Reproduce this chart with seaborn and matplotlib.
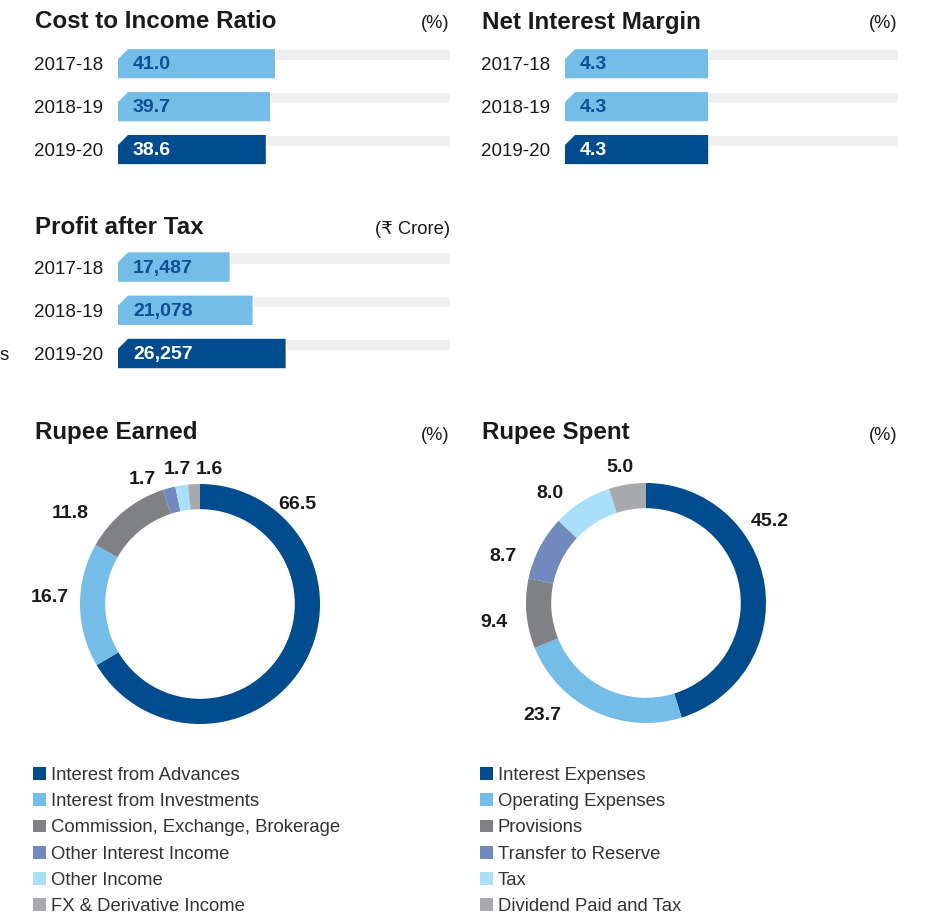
import matplotlib
matplotlib.use('Agg')
import matplotlib.pyplot as plt
from matplotlib.patches import Polygon, Patch
import seaborn as sns

# data
years = ['2017-18', '2018-19', '2019-20']
cost_income = [41.0, 39.7, 38.6]
cost_text = ['41.0', '39.7', '38.6']
nim = [4.3, 4.3, 4.3]
nim_text = ['4.3', '4.3', '4.3']
pat = [17487, 21078, 26257]
pat_text = ['17,487', '21,078', '26,257']

earned_names = ['Interest from Advances', 'Interest from Investments',
                'Commission, Exchange, Brokerage', 'Other Interest Income',
                'Other Income', 'FX & Derivative Income']
earned_values = [66.5, 16.7, 11.8, 1.7, 1.7, 1.6]
earned_text = ['66.5', '16.7', '11.8', '1.7', '1.7', '1.6']

spent_names = ['Interest Expenses', 'Operating Expenses', 'Provisions',
               'Transfer to Reserve', 'Tax', 'Dividend Paid and Tax']
spent_values = [45.2, 23.7, 9.4, 8.7, 8.0, 5.0]
spent_text = ['45.2', '23.7', '9.4', '8.7', '8.0', '5.0']

# colours
DARK = '#004c8f'
LIGHT = '#74bde8'
GRAY = '#808185'
SLATE = '#7189bd'
CYAN = '#aadff9'
LGRAY = '#a8a9ad'
TRACK = '#efefef'
INK = '#1a1a1a'
slice_colors = [DARK, LIGHT, GRAY, SLATE, CYAN, LGRAY]
bar_colors = [LIGHT, LIGHT, DARK]

sns.set_theme(style='white')
plt.rcParams['font.family'] = ['Liberation Sans', 'DejaVu Sans']
plt.rcParams['text.color'] = INK

W, H = 929, 916
fig = plt.figure(figsize=(W / 100, H / 100), dpi=100)


def px_axes(left, top, width, height):
    return fig.add_axes([left / W, 1 - (top + height) / H, width / W, height / H])


def bar_panel(left, top, width, row_h, values, texts, xmax):
    ax = px_axes(left, top, width, row_h * 3)
    sns.barplot(x=values, y=years, hue=years, palette=bar_colors, legend=False,
                width=0.68, saturation=1, ax=ax, zorder=2)
    ax.set_xlim(0, xmax)
    ax.set_ylim(2.5, -0.5)
    # thin grey track to the right of each bar, aligned to its top
    for i, v in enumerate(values):
        ax.barh(i - 0.34 + 0.13, xmax - v, left=v, height=0.26, color=TRACK, zorder=1)
    # chamfer the top-left corner of each bar
    cx = 10 * xmax / width
    cy = 10 / row_h
    for p in list(ax.patches):
        if p.get_zorder() != 2:
            continue
        x0, y0, w, h = p.get_x(), p.get_y(), p.get_width(), p.get_height()
        poly = Polygon([(x0, y0 + cy), (x0 + cx, y0), (x0 + w, y0),
                        (x0 + w, y0 + h), (x0, y0 + h)],
                       closed=True, facecolor=p.get_facecolor(), edgecolor='none', zorder=2)
        p.set_visible(False)
        ax.add_patch(poly)
    for i, t in enumerate(texts):
        ax.annotate(t, xy=(0, i), xytext=(15, -1), textcoords='offset pixels',
                    ha='left', va='center', fontsize=14, fontweight='bold',
                    color='white' if i == 2 else '#0d4f8f', zorder=3)
    ax.set_xlabel('')
    ax.set_ylabel('')
    ax.set_xticks([])
    ax.tick_params(axis='y', length=0, pad=11, labelsize=13.5, labelcolor=INK)
    sns.despine(ax=ax, left=True, bottom=True)
    return ax


def header(x, y, title, unit, unit_right):
    fig.text(x / W, 1 - y / H, title, ha='left', va='center',
             fontsize=17.4, fontweight='bold')
    fig.text(unit_right / W, 1 - (y + 2) / H, unit, ha='right', va='center',
             fontsize=13.2)


header(35, 22, 'Cost to Income Ratio', '(%)', 450)
header(482, 22, 'Net Interest Margin', '(%)', 898)
header(35, 228, 'Profit after Tax', '(₹ Crore)', 450)
header(35, 433, 'Rupee Earned', '(%)', 450)
header(482, 433, 'Rupee Spent', '(%)', 898)

bar_panel(118, 42.3, 332, 42.9, cost_income, cost_text, 86.7)
bar_panel(565, 42.3, 333, 42.9, nim, nim_text, 10.0)
bar_panel(118, 245.4, 332, 43.25, pat, pat_text, 52000)

# stray character at the left edge
fig.text(0, 1 - 356 / H, 's', ha='left', va='center', fontsize=13.5)

# label offsets around each donut, in ring-radius units
earned_pos = [(0.81, 0.83), (-1.25, 0.05), (-1.08, 0.75),
              (-0.48, 1.04), (-0.19, 1.12), (0.075, 1.12)]
spent_pos = [(1.03, 0.68), (-0.86, -0.94), (-1.27, -0.16),
             (-1.19, 0.39), (-0.80, 0.91), (-0.22, 1.13)]


def donut(cx, cy, values, texts, pos):
    r = 120
    ax = px_axes(cx - 1.5 * r, cy - 1.5 * r, 3 * r, 3 * r)
    ax.pie(values, colors=slice_colors, startangle=90, counterclock=False,
           radius=1, wedgeprops=dict(width=0.21, linewidth=0))
    ax.set_xlim(-1.5, 1.5)
    ax.set_ylim(-1.5, 1.5)
    ax.set_aspect('equal')
    ax.axis('off')
    for t, (x, y) in zip(texts, pos):
        ax.text(x, y, t, ha='center', va='center', fontsize=14, fontweight='bold')


donut(200, 604, earned_values, earned_text, earned_pos)
donut(646, 603, spent_values, spent_text, spent_pos)


def legend(x, y, names):
    handles = [Patch(facecolor=c, edgecolor='none', label=n)
               for c, n in zip(slice_colors, names)]
    fig.legend(handles=handles, loc='upper left', bbox_to_anchor=(x / W, 1 - y / H),
               frameon=False, fontsize=13.3, handlelength=0.68, handleheight=0.68,
               handletextpad=0.28, labelspacing=0.5, borderpad=0, borderaxespad=0,
               labelcolor='#333333')


legend(33, 767, earned_names)
legend(480, 767, spent_names)

fig.savefig('out.png', dpi=100)
